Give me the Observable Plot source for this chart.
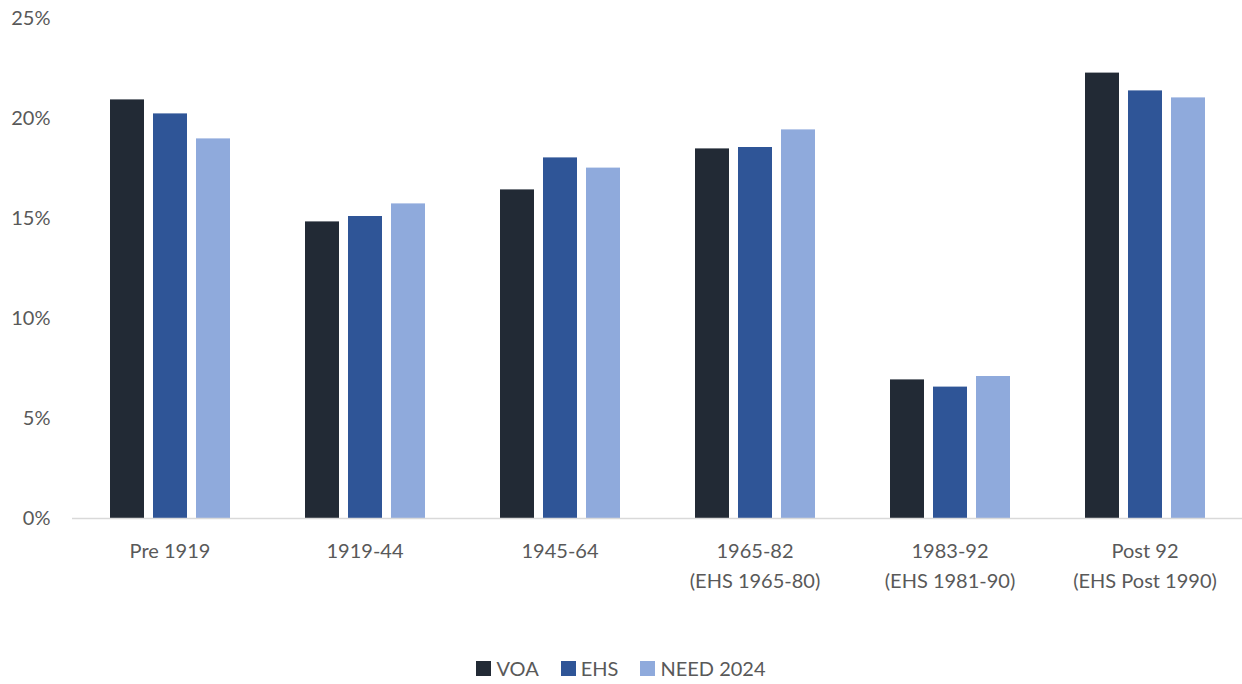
<!DOCTYPE html>
<html>
<head>
<meta charset="utf-8">
<script src="https://cdn.jsdelivr.net/npm/d3@7"></script>
<script src="https://cdn.jsdelivr.net/npm/@observablehq/plot@0.6"></script>
<style>
  html, body { margin: 0; padding: 0; background: #fff; }
  #chart { width: 1242px; height: 684px; position: relative; font-family: Lato, sans-serif; color: #595959; }
  #legend { position: absolute; left: 0; top: 656px; width: 1242px; display: flex; justify-content: center; align-items: center; font-size: 20px; }
  .item { display: flex; align-items: center; margin: 0 11px; }
  .sw { width: 15px; height: 15px; margin-right: 5px; }
</style>
</head>
<body>
<div id="chart"><div id="plot"></div><div id="legend"></div></div>
<script>
const categories = ["Pre 1919", "1919-44", "1945-64", "1965-82\n(EHS 1965-80)", "1983-92\n(EHS 1981-90)", "Post 92\n(EHS Post 1990)"];
const series = ["VOA", "EHS", "NEED 2024"];
const voa  = [20.93, 14.83, 16.43, 18.48, 6.93, 22.27];
const ehs  = [20.23, 15.10, 18.03, 18.55, 6.57, 21.38];
const need = [18.98, 15.73, 17.52, 19.43, 7.10, 21.03];
const colors = ["#222a35", "#2f5597", "#8faadc"];
const yTicks = [0, 5, 10, 15, 20, 25];

const valuesBySeries = [voa, ehs, need];
const rows = [];
categories.forEach((c, i) => {
  series.forEach((s, j) => rows.push({category: c, series: s, value: valuesBySeries[j][i]}));
});

const chart = Plot.plot({
  width: 1242,
  height: 610,
  marginLeft: 72,
  marginRight: 0,
  marginTop: 18,
  marginBottom: 92,
  style: {fontFamily: "Lato, sans-serif", fontSize: "20px", color: "#595959", background: "white"},
  fx: {domain: categories, paddingInner: 0, paddingOuter: 0, label: null},
  x: {domain: series, axis: null, paddingInner: 0.21, paddingOuter: 0.87},
  y: {domain: [0, 25], label: null},
  color: {domain: series, range: colors},
  marks: [
    Plot.barY(rows, {fx: "category", x: "series", y: "value", fill: "series"}),
    Plot.ruleY([0], {stroke: "#d9d9d9", strokeWidth: 1.5}),
    Plot.axisY({anchor: "left", ticks: yTicks, tickFormat: d => d + "%", tickSize: 0, tickPadding: 22, label: null}),
    Plot.axisFx({anchor: "bottom", tickSize: 0, tickPadding: 18, label: null, lineHeight: 1.5})
  ]
});
document.getElementById("plot").appendChild(chart);

const legend = document.getElementById("legend");
series.forEach((s, i) => {
  const item = document.createElement("div");
  item.className = "item";
  const sw = document.createElement("div");
  sw.className = "sw";
  sw.style.background = colors[i];
  const t = document.createElement("span");
  t.textContent = s;
  item.appendChild(sw);
  item.appendChild(t);
  legend.appendChild(item);
});
</script>
</body>
</html>
